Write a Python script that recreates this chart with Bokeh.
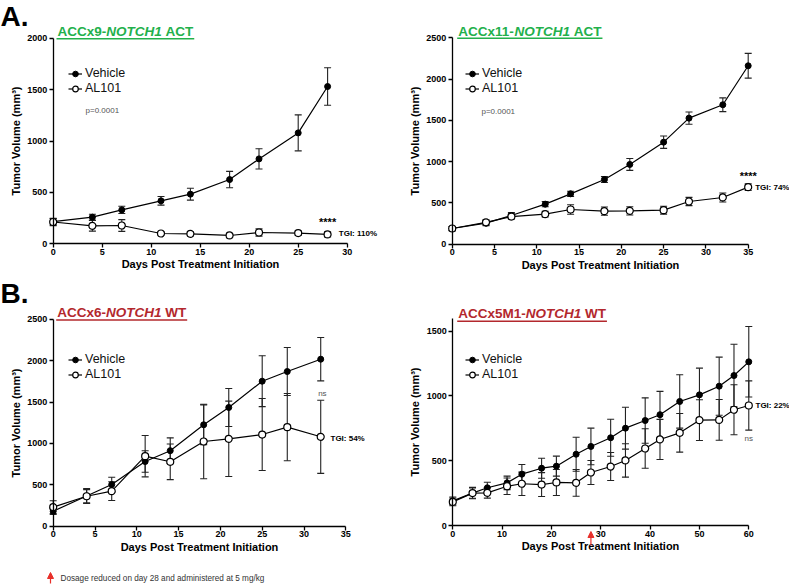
from bokeh.plotting import figure
from bokeh.models import (Range1d, FixedTicker, Whisker, TeeHead, ColumnDataSource,
                          Legend, LegendItem, Label, Arrow, NormalHead)
from bokeh.layouts import row, column
from bokeh.embed import file_html
from bokeh.resources import INLINE

FONT = "Liberation Sans"
GREEN = "#22b04b"
RED = "#b3282d"

# ---------------- data ----------------
A1_days = [0, 4, 7, 11, 14, 18, 21, 25, 28]
A1_veh = [215, 259, 330, 418, 483, 625, 826, 1079, 1530]
A1_veh_err = [30, 28, 35, 42, 58, 80, 98, 175, 182]
A1_al = [212, 175, 178, 100, 97, 81, 110, 104, 91]
A1_al_err = [35, 52, 57, 15, 20, 22, 35, 20, 25]

A2_days = [0, 4, 7, 11, 14, 18, 21, 25, 28, 32, 35]
A2_veh = [190, 255, 347, 485, 610, 784, 966, 1236, 1527, 1689, 2161]
A2_veh_err = [25, 30, 35, 32, 32, 36, 72, 75, 75, 83, 150]
A2_al = [190, 265, 335, 364, 420, 400, 404, 412, 517, 566, 691]
A2_al_err = [25, 30, 30, 35, 58, 50, 50, 48, 50, 55, 40]

B1_days = [0, 4, 7, 11, 14, 18, 21, 25, 28, 32]
B1_veh = [181, 365, 503, 781, 912, 1225, 1434, 1751, 1868, 2017]
B1_veh_err = [40, 90, 89, 130, 155, 240, 229, 307, 290, 262]
B1_al = [230, 362, 423, 846, 778, 1023, 1055, 1107, 1196, 1080]
B1_al_err = [77, 80, 113, 250, 215, 450, 455, 435, 406, 442]

B2_days = [0, 4, 7, 11, 14, 18, 21, 25, 28, 32, 35, 39, 42, 46, 50, 54, 57, 60]
B2_veh = [190, 250, 291, 329, 396, 442, 458, 550, 610, 677, 751, 810, 855, 957, 1008, 1075, 1157, 1263]
B2_veh_err = [30, 44, 43, 52, 75, 77, 77, 131, 141, 143, 162, 175, 180, 206, 206, 224, 242, 272]
B2_al = [182, 250, 252, 303, 322, 316, 332, 329, 409, 455, 502, 594, 664, 715, 813, 815, 893, 926]
B2_al_err = [30, 40, 41, 64, 90, 92, 100, 103, 93, 108, 129, 152, 155, 149, 157, 157, 193, 190]

A1_xticks = [0, 5, 10, 15, 20, 25, 30]
A2_xticks = [0, 5, 10, 15, 20, 25, 30, 35]
B1_xticks = [0, 5, 10, 15, 20, 25, 30, 35]
B2_xticks = [0, 10, 20, 30, 40, 50, 60]
A1_yticks = [0, 500, 1000, 1500, 2000]
A2_yticks = [0, 500, 1000, 1500, 2000, 2500]
B1_yticks = [0, 500, 1000, 1500, 2000, 2500]
B2_yticks = [0, 500, 1000, 1500]

# Arial/Liberation Sans Bold advance widths (per 1000 em)
BW = {"A": 722, "C": 722, "x": 556, "-": 333, "N": 722, "O": 778, "T": 611, "H": 722,
      " ": 278, "W": 944, "M": 833}
for d in "0123456789":
    BW[d] = 556


def tw(s, size):
    return sum(BW[c] for c in s) * size / 1000.0


class Geo:
    """Figure geometry: the frame fills the whole canvas; axes sit at data 0."""

    def __init__(self, ox, oy, W, H, X0, sx, Y0, sy, XB, YB):
        self.ox, self.oy, self.W, self.H = ox, oy, W, H
        self.X0, self.sx, self.Y0, self.sy = X0, sx, Y0, sy
        self.XB, self.YB = XB, YB

    # page pixel -> data
    def dx(self, px):
        return (px - self.ox - self.X0) / self.sx

    def dy(self, py):
        return (self.Y0 - (py - self.oy)) / self.sy


def make_panel(g, days, veh, veh_err, al, al_err, xticks, yticks, title_parts,
               title_color, title_xy, underline_y, legend_xy):
    p = figure(width=g.W, height=g.H,
               x_range=Range1d(-g.X0 / g.sx, (g.W - g.X0) / g.sx),
               y_range=Range1d(-(g.H - g.Y0) / g.sy, g.Y0 / g.sy),
               min_border=0, min_border_left=0, min_border_right=0, min_border_top=0,
               min_border_bottom=0, toolbar_location=None, output_backend="svg")
    p.outline_line_color = None
    p.xgrid.visible = False
    p.ygrid.visible = False
    p.background_fill_color = "white"
    p.border_fill_color = "white"

    for ax in (p.xaxis[0], p.yaxis[0]):
        ax.fixed_location = 0
        ax.axis_line_width = 1.3
        ax.axis_line_color = "black"
        ax.major_tick_line_width = 1.3
        ax.major_tick_line_color = "black"
        ax.major_tick_out = 4
        ax.major_tick_in = 0
        ax.minor_tick_out = 0
        ax.minor_tick_in = 0
        ax.major_label_text_font = FONT
        ax.major_label_text_font_style = "bold"
        ax.major_label_text_font_size = "9px"
        ax.major_label_text_color = "black"
        ax.axis_label_text_font = FONT
        ax.axis_label_text_font_style = "bold"
        ax.axis_label_text_font_size = "11px"
        ax.axis_label_text_color = "black"
    p.xaxis[0].major_label_standoff = 1
    p.xaxis[0].axis_label_standoff = 0
    p.yaxis[0].major_label_standoff = 2
    p.yaxis[0].axis_label_standoff = 2
    p.xaxis[0].ticker = FixedTicker(ticks=xticks)
    p.yaxis[0].ticker = FixedTicker(ticks=yticks)
    p.xaxis[0].bounds = (0, g.XB)
    p.yaxis[0].bounds = (0, g.YB)
    p.xaxis[0].axis_label = "Days Post Treatment Initiation"
    p.yaxis[0].axis_label = "Tumor Volume (mm\u00b3)"

    src_v = ColumnDataSource(dict(x=days, y=veh,
                                  up=[a + b for a, b in zip(veh, veh_err)],
                                  lo=[a - b for a, b in zip(veh, veh_err)]))
    src_a = ColumnDataSource(dict(x=days, y=al,
                                  up=[a + b for a, b in zip(al, al_err)],
                                  lo=[a - b for a, b in zip(al, al_err)]))
    for src in (src_v, src_a):
        w = Whisker(base="x", upper="up", lower="lo", source=src, level="underlay",
                    line_color="#222222", line_width=1.1,
                    upper_head=TeeHead(size=7, line_color="#222222", line_width=1.1),
                    lower_head=TeeHead(size=7, line_color="#222222", line_width=1.1))
        p.add_layout(w)

    lv = p.line("x", "y", source=src_v, line_color="black", line_width=1.2)
    sv = p.scatter("x", "y", source=src_v, size=6, marker="circle",
                   fill_color="black", line_color="black")
    la = p.line("x", "y", source=src_a, line_color="black", line_width=1.2)
    sa = p.scatter("x", "y", source=src_a, size=7, marker="circle",
                   fill_color="white", line_color="black", line_width=1.2)

    leg = Legend(items=[LegendItem(label="Vehicle", renderers=[lv, sv]),
                        LegendItem(label="AL101", renderers=[la, sa])],
                 glyph_width=14, glyph_height=15, label_height=15, label_standoff=3,
                 spacing=0, padding=0, margin=0, border_line_color=None,
                 background_fill_alpha=0, label_text_font=FONT,
                 label_text_font_size="12.5px", label_text_color="#111111")
    lx, ly_c = legend_xy
    leg.location = (lx - g.ox, g.H - (ly_c - g.oy - 7.5) - 30)
    p.add_layout(leg)

    # title with italic gene name and underline (cap centre at title_xy[1])
    tx, ty = title_xy
    off = 0.0
    fs = 13.5
    for txt, style, extra in title_parts:
        off += tw(extra, fs)
        p.add_layout(Label(x=g.dx(tx), y=g.dy(ty), x_offset=off, text=txt,
                           text_font=FONT, text_font_style=style,
                           text_font_size="%spx" % fs, text_color=title_color,
                           text_baseline="middle", text_align="left"))
        off += tw(txt, fs)
    p.add_layout(Arrow(end=None, x_start=g.dx(tx - 1), y_start=g.dy(underline_y),
                       x_end=g.dx(tx + off + 1), y_end=g.dy(underline_y),
                       line_color=title_color, line_width=1.6))
    return p


def lab(p, x, y, text, size="8px", style="bold", color="black", align="left",
        baseline="middle"):
    p.add_layout(Label(x=x, y=y, text=text, text_font=FONT, text_font_style=style,
                       text_font_size=size, text_color=color, text_align=align,
                       text_baseline=baseline))


# ---------------- panels (page-pixel geometry) ----------------
TOP_H = 272
BOT_H = 584 - TOP_H
gA1 = Geo(ox=0, oy=0, W=395, H=TOP_H, X0=52.7, sx=9.8, Y0=243.3, sy=0.1028, XB=30, YB=2000)
gA2 = Geo(ox=395, oy=0, W=394, H=TOP_H, X0=56.7, sx=8.457, Y0=243.7, sy=0.08256, XB=35, YB=2500)
gB1 = Geo(ox=0, oy=TOP_H, W=395, H=BOT_H, X0=52.7, sx=8.36, Y0=525.7 - TOP_H, sy=0.0828,
          XB=35, YB=2500)
gB2 = Geo(ox=395, oy=TOP_H, W=394, H=BOT_H, X0=57.3, sx=4.933, Y0=525.0 - TOP_H, sy=0.1296,
          XB=60, YB=1600)

pA1 = make_panel(gA1, A1_days, A1_veh, A1_veh_err, A1_al, A1_al_err, A1_xticks, A1_yticks,
                 [("ACCx9-", "bold", ""), ("NOTCH1", "bold italic", ""), ("ACT", "bold", " ")],
                 GREEN, (57, 30.5), 38.3, (68, 73.3))
pA2 = make_panel(gA2, A2_days, A2_veh, A2_veh_err, A2_al, A2_al_err, A2_xticks, A2_yticks,
                 [("ACCx11-", "bold", ""), ("NOTCH1", "bold italic", ""), ("ACT", "bold", " ")],
                 GREEN, (457.7, 30.5), 37.7, (465, 73.3))
pB1 = make_panel(gB1, B1_days, B1_veh, B1_veh_err, B1_al, B1_al_err, B1_xticks, B1_yticks,
                 [("ACCx6-", "bold", ""), ("NOTCH1", "bold italic", ""), ("WT", "bold", " ")],
                 RED, (56.7, 312), 319.5, (68, 359.3))
pB2 = make_panel(gB2, B2_days, B2_veh, B2_veh_err, B2_al, B2_al_err, B2_xticks, B2_yticks,
                 [("ACCx5M1-", "bold", ""), ("NOTCH1", "bold italic", ""), ("WT", "bold", " ")],
                 RED, (457.7, 312.5), 320.7, (465, 359.3))

# panel letters
lab(pA1, gA1.dx(0), gA1.dy(16), "A.", size="28px")
lab(pB1, gB1.dx(0), gB1.dy(293), "B.", size="28px")

# annotations A1
lab(pA1, 3.3, 1297, "p=0.0001", size="8px", style="normal", color="#555555")
lab(pA1, 28.0, 215, "****", size="11px", align="center")
lab(pA1, 29.14, 97, "TGI: 110%")
# annotations A2
lab(pA2, 3.46, 1607, "p=0.0001", size="8px", style="normal", color="#555555")
lab(pA2, 35.0, 830, "****", size="11px", align="center")
lab(pA2, 35.83, 690, "TGI: 74%")
# annotations B1
lab(pB1, 32.2, 1600, "ns", size="8px", style="normal", color="#555555", align="center")
lab(pB1, 33.17, 1059, "TGI: 54%")
# annotations B2
lab(pB2, 60.0, 674, "ns", size="8px", style="normal", color="#555555", align="center")
lab(pB2, 61.36, 926, "TGI: 22%")

# red arrow on B2 x axis (dosage reduced at day 28)
pB2.add_layout(Arrow(x_start=28, y_start=gB2.dy(545), x_end=28, y_end=gB2.dy(531),
                     line_color="#e8302a", line_width=1.2,
                     end=NormalHead(size=6, fill_color="#e8302a", line_color="#e8302a")))
# footnote
pB1.add_layout(Arrow(x_start=gB1.dx(50), y_start=gB1.dy(583), x_end=gB1.dx(50),
                     y_end=gB1.dy(572), line_color="#e8302a", line_width=1.2,
                     end=NormalHead(size=6, fill_color="#e8302a", line_color="#e8302a")))
lab(pB1, gB1.dx(60), gB1.dy(578), "Dosage reduced on day 28 and administered at 5 mg/kg",
    size="8.2px", style="normal", color="#333333")

layout = column(row(pA1, pA2), row(pB1, pB2))
open("out.html", "w").write(file_html(layout, INLINE))
